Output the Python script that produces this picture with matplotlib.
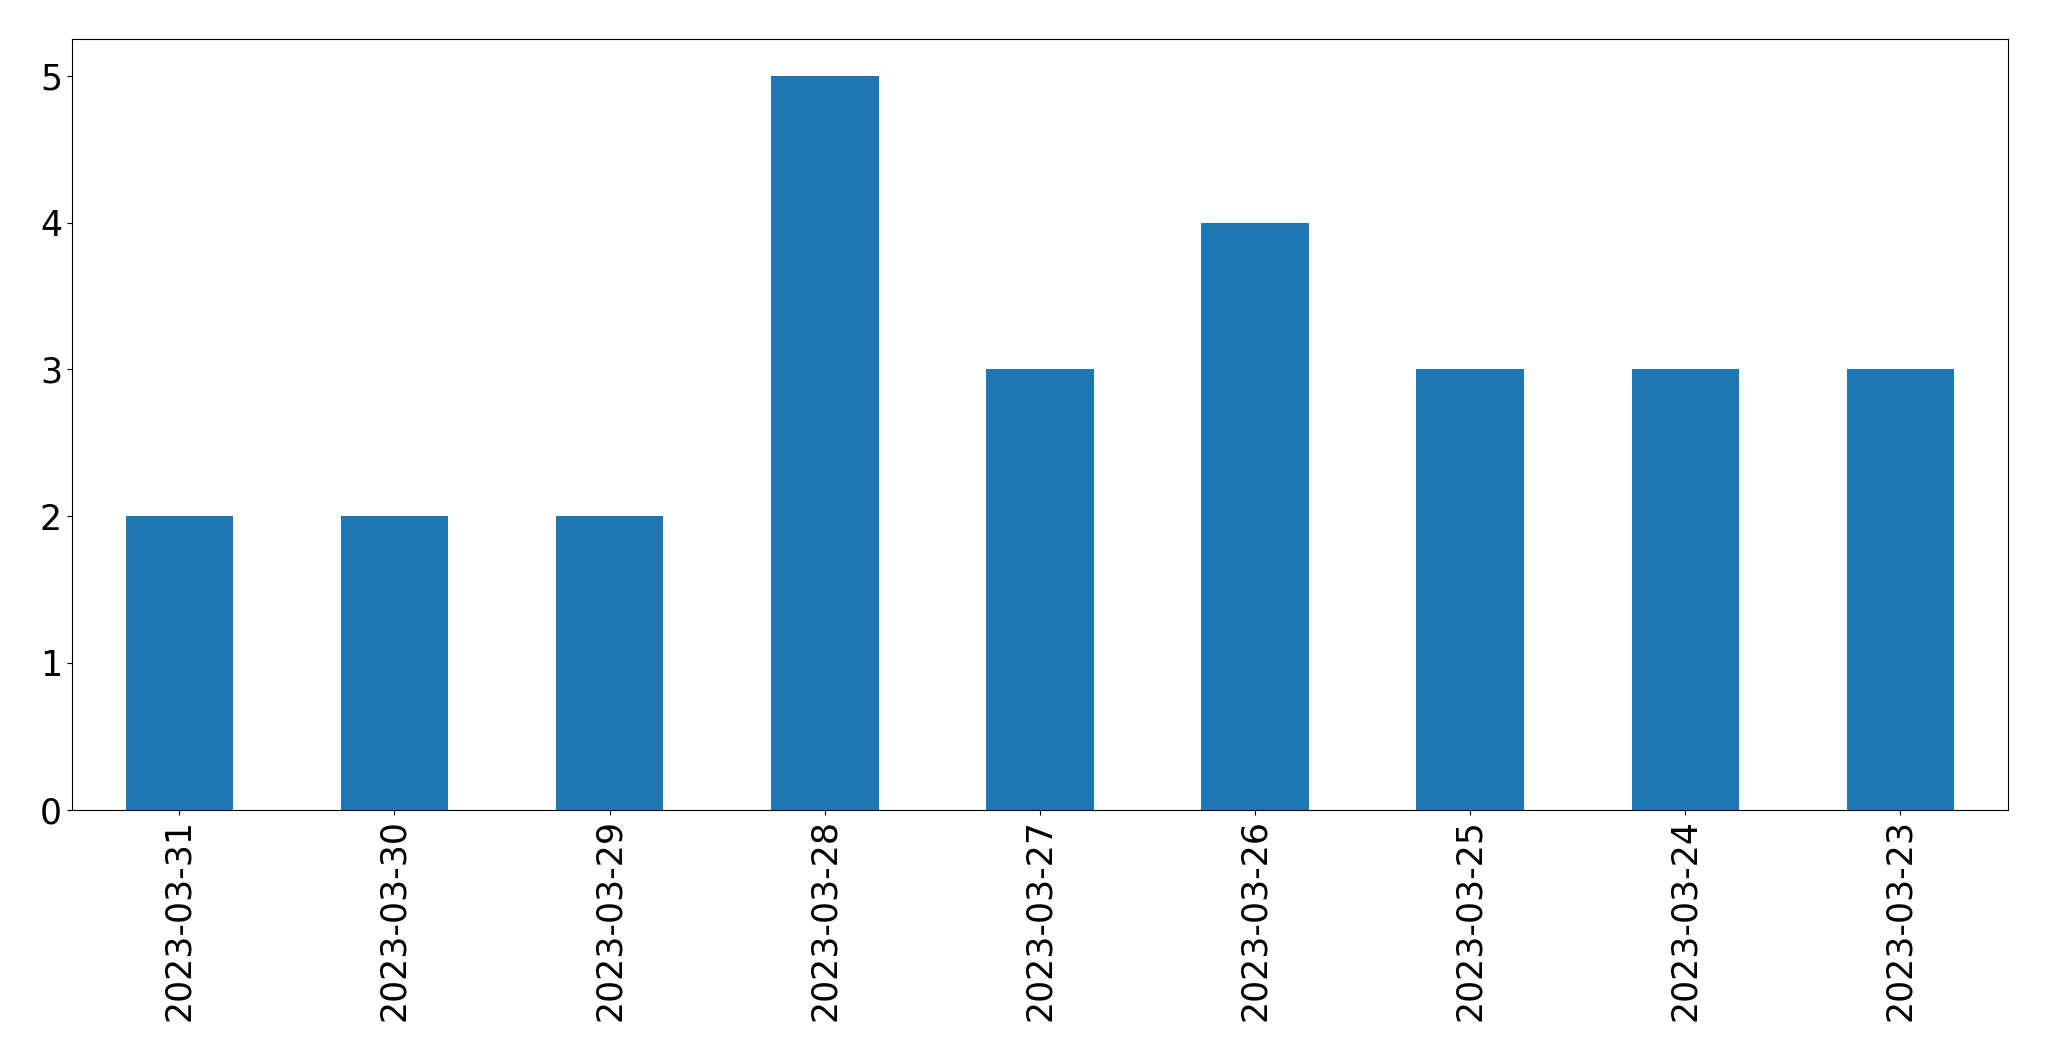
import matplotlib
matplotlib.use('Agg')
import matplotlib.pyplot as plt
import numpy as np

# 日期与计数
dates = ['2023-03-31', '2023-03-30', '2023-03-29', '2023-03-28', '2023-03-27',
         '2023-03-26', '2023-03-25', '2023-03-24', '2023-03-23']
counts = [2, 2, 2, 5, 3, 4, 3, 3, 3]

fig, ax = plt.subplots(figsize=(20.49, 10.61), dpi=100)
x = np.arange(len(dates))
ax.bar(x, counts, width=0.5, color='#1f77b4')
ax.set_xlim(-0.5, len(dates) - 0.5)
ax.set_ylim(0, 5.25)
ax.set_xticks(x)
ax.set_xticklabels(dates, rotation=90)
ax.tick_params(axis='both', labelsize=25)

fig.subplots_adjust(left=0.035, right=0.980, top=0.963, bottom=0.237)
fig.savefig('out.png', dpi=100)
plt.close(fig)
